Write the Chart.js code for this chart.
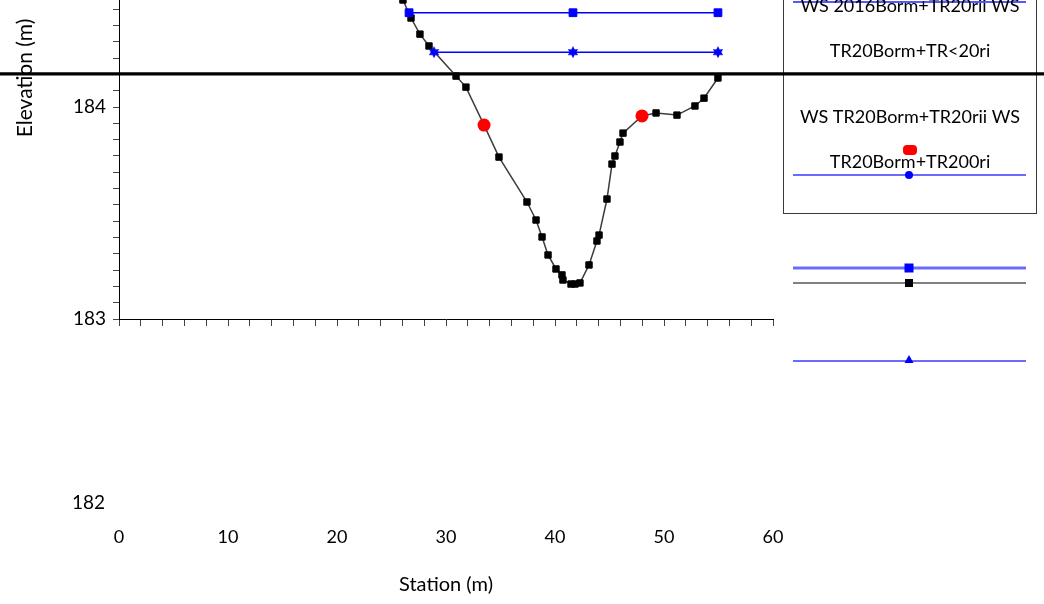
<!DOCTYPE html>
<html lang="en">
<head>
<meta charset="UTF-8">
<title>Cross Section</title>
<script src="https://cdn.jsdelivr.net/npm/chart.js"></script>
<style>
  html, body { margin: 0; padding: 0; background: #fff; }
  .chart-container { position: relative; width: 1044px; height: 604px; }
</style>
</head>
<body>
<div class="chart-container"><canvas id="xsChart"></canvas></div>
<script>
// ground profile (station m, elevation m)
const groundStation = [25.4, 26.05, 26.79, 27.61, 28.44, 30.92, 31.83, 33.49, 34.86, 37.43, 38.26, 38.81,
  39.36, 40.09, 40.64, 40.73, 41.47, 41.83, 42.29, 43.12, 43.85, 44.04, 44.77, 45.23, 45.50, 45.96, 46.24,
  47.98, 49.27, 51.19, 52.84, 53.67, 54.95];
const groundElev = [184.57, 184.505, 184.42, 184.344, 184.288, 184.146, 184.094, 183.915, 183.764, 183.552,
  183.467, 183.387, 183.302, 183.236, 183.208, 183.184, 183.165, 183.165, 183.170, 183.255, 183.368, 183.396,
  183.566, 183.731, 183.769, 183.835, 183.877, 183.958, 183.972, 183.962, 184.005, 184.042, 184.137];

// bank stations
const bankStation = [33.49, 47.98];
const bankElev = [183.915, 183.958];

// water surfaces
const ws1Station = [26.61, 41.65, 54.95];
const ws1Elev = [184.445, 184.445, 184.445];
const ws2Station = [28.90, 41.65, 54.95];
const ws2Elev = [184.259, 184.259, 184.259];
const refStation = [-12, 86];
const refElev = [184.156, 184.156];

// axes
const xTickLabels = [0, 10, 20, 30, 40, 50, 60];
const yTickLabels = [183, 184];
const strayYLabel = '182';
const legendText = ['WS 2016Borm+TR20rii WS', 'TR20Borm+TR<20ri', 'WS TR20Borm+TR20rii WS', 'TR20Borm+TR200ri'];

const FONT = 'Lato, "Liberation Sans", Arial, sans-serif';
const toPts = (xs, ys) => xs.map((x, i) => ({ x: x, y: ys[i] }));

function starImage(color, r) {
  const c = document.createElement('canvas');
  const s = Math.ceil(r * 2 + 2);
  c.width = c.height = s;
  const g = c.getContext('2d');
  g.fillStyle = color;
  g.beginPath();
  for (let i = 0; i < 12; i++) {
    const a = -Math.PI / 2 + i * Math.PI / 6;
    const rr = i % 2 ? r * 0.55 : r;
    g.lineTo(s / 2 + rr * Math.cos(a), s / 2 + rr * Math.sin(a));
  }
  g.closePath();
  g.fill();
  return c;
}

// legend box + loose texts, drawn under the data
const boxLegend = {
  id: 'boxLegend',
  beforeDatasetsDraw(chart) {
    const ctx = chart.ctx;
    ctx.save();
    ctx.strokeStyle = '#3a3a3a';
    ctx.lineWidth = 1;
    ctx.strokeRect(783.5, -2, 253, 215.5);

    ctx.lineCap = 'butt';
    const sample = (y, color, w) => {
      ctx.strokeStyle = color; ctx.lineWidth = w;
      ctx.beginPath(); ctx.moveTo(793, y); ctx.lineTo(1026, y); ctx.stroke();
    };
    sample(2, '#2020ff', 1.5);
    sample(175, '#6a6aff', 2);
    sample(268, '#6a6aff', 3);
    sample(283, '#808080', 2);
    sample(361, '#6a6aff', 2);

    ctx.fillStyle = '#000';
    ctx.font = '18px ' + FONT;
    ctx.textAlign = 'center';
    ctx.textBaseline = 'alphabetic';
    ctx.fillText(legendText[0], 910, 12);
    ctx.fillText(legendText[1], 910, 57);
    ctx.fillText(legendText[2], 910, 123);
    ctx.fillText(legendText[3], 910, 168);

    // markers
    ctx.fillStyle = '#ff0000';
    ctx.beginPath(); ctx.roundRect(903, 145, 14, 10, 4); ctx.fill();
    ctx.fillStyle = '#0000ff';
    ctx.beginPath(); ctx.arc(909, 175, 4, 0, Math.PI * 2); ctx.fill();
    ctx.fillRect(904.5, 263.5, 9, 9);
    ctx.fillStyle = '#000';
    ctx.fillRect(905, 279, 8, 8);
    ctx.fillStyle = '#0000ff';
    ctx.beginPath(); ctx.moveTo(909, 355); ctx.lineTo(913.5, 363); ctx.lineTo(904.5, 363); ctx.closePath(); ctx.fill();
    ctx.restore();
  },
  afterDraw(chart) {
    const ctx = chart.ctx;
    ctx.save();
    ctx.fillStyle = '#000';
    ctx.font = '19px ' + FONT;
    ctx.textAlign = 'right';
    ctx.textBaseline = 'alphabetic';
    ctx.fillText(strayYLabel, 105, 509);
    ctx.font = '21px ' + FONT;
    ctx.translate(32, 78);
    ctx.rotate(-Math.PI / 2);
    ctx.textAlign = 'center';
    ctx.fillText('Elevation (m)', 0, 0);
    ctx.restore();
  }
};

const ctx = document.getElementById('xsChart').getContext('2d');
const xsChart = new Chart(ctx, {
  type: 'scatter',
  data: {
    datasets: [
      {
        label: 'Bank Sta',
        data: toPts(bankStation, bankElev),
        showLine: false,
        pointStyle: 'circle',
        pointRadius: 6.5,
        pointBackgroundColor: '#ff0000',
        pointBorderColor: '#ff0000',
        pointBorderWidth: 0
      },
      {
        label: legendText[0] + ' ' + legendText[1],
        data: toPts(ws1Station, ws1Elev),
        showLine: true,
        borderColor: '#0000ff',
        borderWidth: 1.5,
        pointStyle: 'rect',
        pointRadius: 5.5,
        pointBackgroundColor: '#0000ff',
        pointBorderColor: '#0000ff',
        pointBorderWidth: 1
      },
      {
        label: legendText[2] + ' ' + legendText[3],
        data: toPts(ws2Station, ws2Elev),
        showLine: true,
        borderColor: '#0000ff',
        borderWidth: 1.5,
        pointStyle: starImage('#0000ff', 6),
        pointRadius: 6
      },
      {
        label: 'Ground',
        data: toPts(groundStation, groundElev),
        showLine: true,
        borderColor: '#3c3c3c',
        borderWidth: 1.5,
        pointStyle: 'rect',
        pointRadius: 4.5,
        pointBackgroundColor: '#000',
        pointBorderColor: '#000',
        pointBorderWidth: 1
      },
      {
        label: 'WS',
        data: toPts(refStation, refElev),
        showLine: true,
        borderColor: '#000',
        borderWidth: 3.2,
        pointRadius: 0,
        clip: false
      }
    ]
  },
  options: {
    responsive: true,
    maintainAspectRatio: false,
    animation: false,
    layout: { padding: { left: 0, right: 271, top: 0, bottom: 0 }, autoPadding: false },
    scales: {
      x: {
        type: 'linear',
        min: 0,
        max: 60,
        afterBuildTicks: (s) => { s.ticks = Array.from({ length: 31 }, (_, k) => ({ value: k * 2 })); },
        afterFit: (s) => { s.height = 285; s.paddingLeft = 0; s.paddingRight = 0; },
        ticks: {
          autoSkip: false,
          maxRotation: 0,
          padding: 200,
          color: '#000',
          font: { family: FONT, size: 18 },
          callback: (v) => xTickLabels.includes(v) ? String(v) : ''
        },
        grid: { drawOnChartArea: false, drawTicks: true, tickLength: 7, tickColor: '#444' },
        border: { display: true, color: '#000', width: 1 },
        title: {
          display: true,
          text: 'Station (m)',
          color: '#000',
          font: { family: FONT, size: 20 },
          padding: { top: 0, bottom: 7 }
        }
      },
      y: {
        type: 'linear',
        min: 183,
        max: 184.505,
        afterBuildTicks: (s) => { s.ticks = Array.from({ length: 20 }, (_, k) => ({ value: 183 + k / 13 })); },
        afterFit: (s) => { s.width = 119; s.paddingTop = 0; s.paddingBottom = 0; },
        ticks: {
          autoSkip: false,
          padding: 7,
          color: '#000',
          font: { family: FONT, size: 19 },
          callback: (v) => {
            const r = Math.round(v);
            return Math.abs(v - r) < 1e-6 && yTickLabels.includes(r) ? String(r) : '';
          }
        },
        grid: { drawOnChartArea: false, drawTicks: true, tickLength: 6, tickColor: '#444' },
        border: { display: true, color: '#000', width: 1 },
        title: { display: false }
      }
    },
    plugins: {
      legend: { display: false },
      tooltip: { enabled: false }
    }
  },
  plugins: [boxLegend]
});
</script>
</body>
</html>
